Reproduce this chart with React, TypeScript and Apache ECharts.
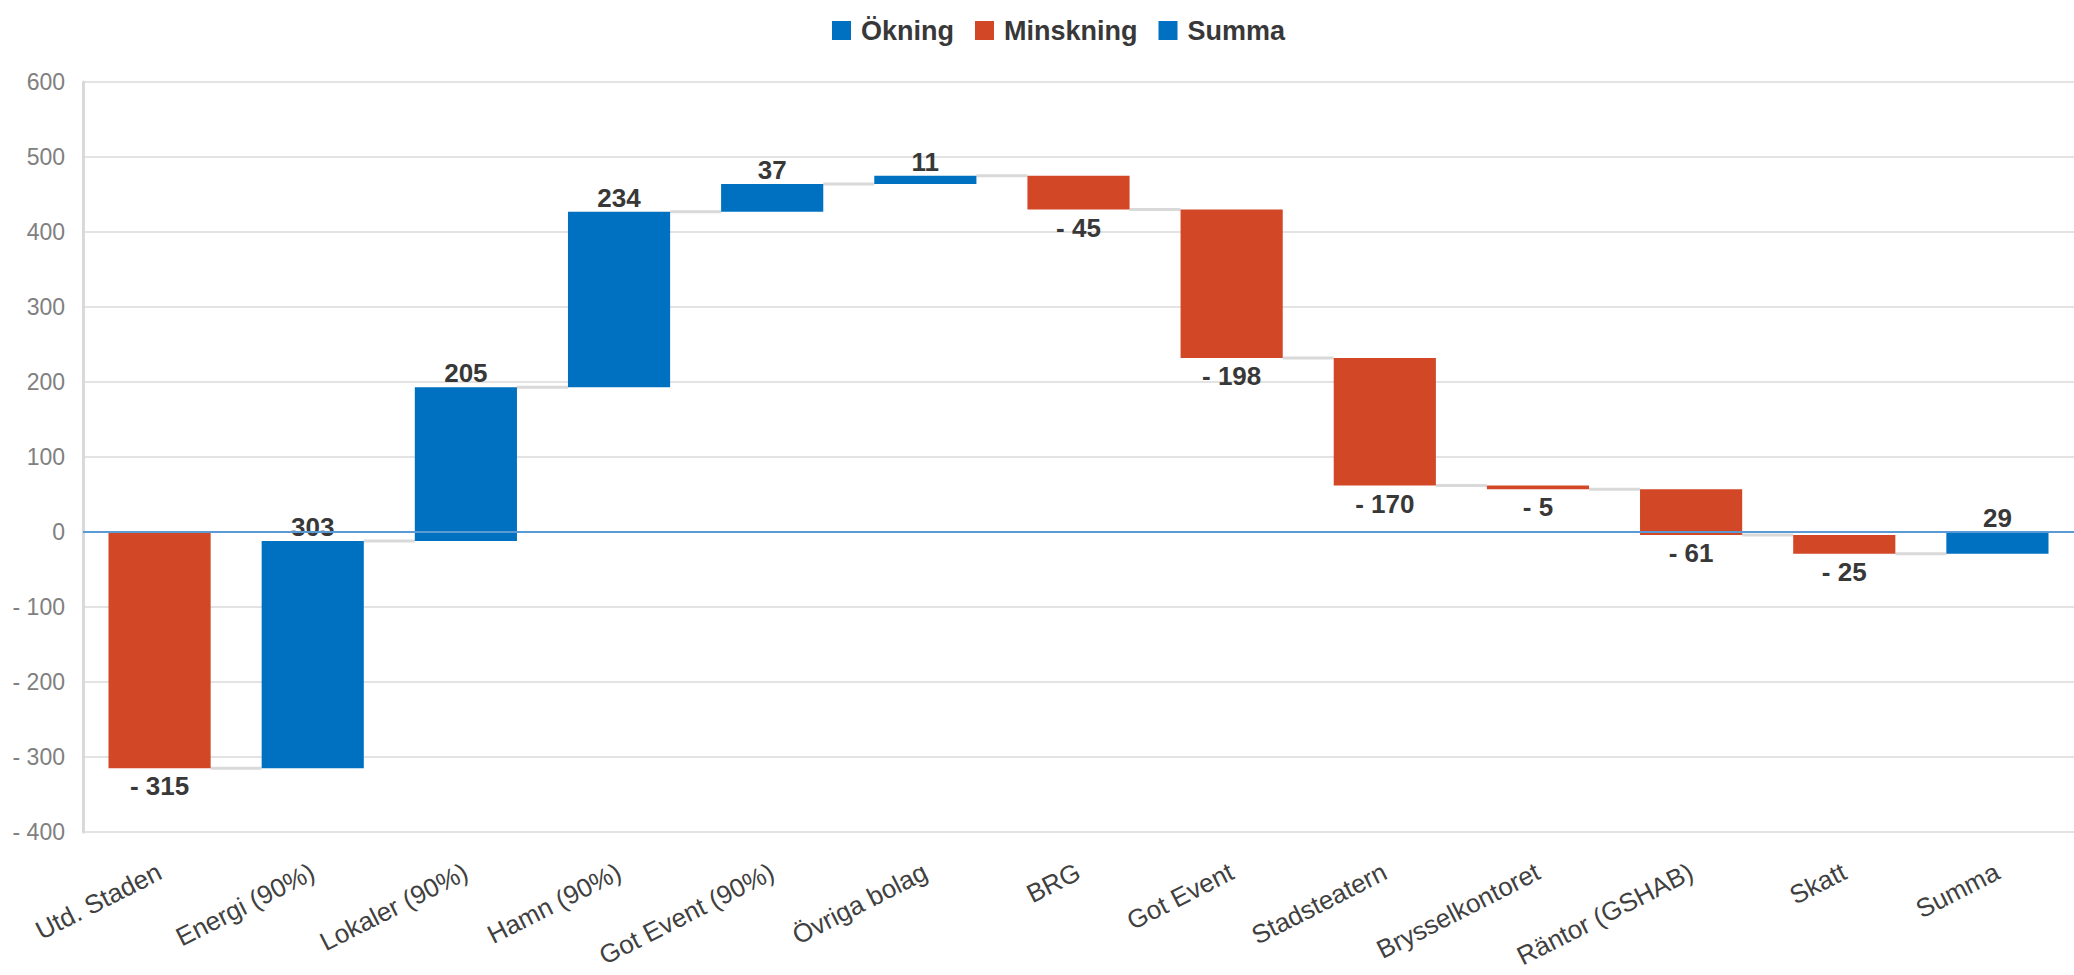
import React, { useEffect, useRef } from "react";
import * as echarts from "echarts";

const categories = [
  "Utd. Staden",
  "Energi (90%)",
  "Lokaler (90%)",
  "Hamn (90%)",
  "Got Event (90%)",
  "Övriga bolag",
  "BRG",
  "Got Event",
  "Stadsteatern",
  "Brysselkontoret",
  "Räntor (GSHAB)",
  "Skatt",
  "Summa",
];
// change per company (last category is the sum)
const changes = [-315, 303, 205, 234, 37, 11, -45, -198, -170, -5, -61, -25];
const summaLabel = "29";
const yTicks = { min: -400, max: 600, interval: 100 };
const legendNames = ["Ökning", "Minskning", "Summa"];

const BLUE = "#0070C0";
const RED = "#D24726";
const FONT = "'Liberation Sans', Arial, sans-serif";

const fmtNeg = (v: number) => (v < 0 ? "- " + Math.abs(v) : String(v));

export default function App() {
  const ref = useRef<HTMLDivElement>(null);

  useEffect(() => {
    document.body.style.margin = "0";
    if (!ref.current) return;
    const chart = echarts.init(ref.current, undefined, { renderer: "svg" });

    // running totals
    const levels: number[] = [];
    let acc = 0;
    changes.forEach((c) => {
      acc += c;
      levels.push(acc);
    });
    const total = acc;

    const incData: any[] = [];
    const incLabels: string[] = [];
    const decData: any[] = [];
    const decLabels: string[] = [];
    changes.forEach((c, i) => {
      const start = i === 0 ? 0 : levels[i - 1];
      const end = levels[i];
      if (c >= 0) {
        incData.push([i, start, end]);
        incLabels.push(fmtNeg(c));
      } else {
        decData.push([i, start, end]);
        decLabels.push(fmtNeg(c));
      }
    });
    const sumData = [[categories.length - 1, 0, total]];
    const sumLabels = [summaLabel];

    const connData = levels.map((l, i) => [i, l]);

    const makeBarRender =
      (color: string, labels: string[], below: boolean) =>
      (params: any, api: any) => {
        const i = api.value(0);
        const s = api.value(1);
        const e = api.value(2);
        const p1 = api.coord([i, s]);
        const p2 = api.coord([i, e]);
        const bw = api.size([1, 0])[0] * 0.667;
        const top = Math.min(p1[1], p2[1]);
        const bottom = Math.max(p1[1], p2[1]);
        const h = Math.max(bottom - top, 1);
        return {
          type: "group",
          children: [
            {
              type: "rect",
              shape: { x: p1[0] - bw / 2, y: top, width: bw, height: h },
              style: { fill: color },
            },
            {
              type: "text",
              z2: 10,
              style: {
                text: labels[params.dataIndex],
                x: p1[0],
                y: below ? bottom + 5 : top - 1,
                align: "center",
                verticalAlign: below ? "top" : "bottom",
                fontSize: 26,
                fontWeight: "bold",
                fontFamily: FONT,
                fill: "#383838",
              },
            },
          ],
        };
      };

    const option: any = {
      animation: false,
      backgroundColor: "#ffffff",
      textStyle: { fontFamily: FONT },
      legend: {
        data: legendNames,
        left: 827,
        top: 12,
        icon: "rect",
        itemWidth: 19,
        itemHeight: 19,
        itemGap: 21,
        textStyle: {
          fontSize: 27,
          fontWeight: "bold",
          color: "#383838",
          fontFamily: FONT,
          padding: [0, 0, 0, 5],
        },
      },
      grid: { left: 83, right: -21, top: 82, bottom: 143, containLabel: false },
      xAxis: {
        type: "category",
        data: categories,
        axisLine: { show: false },
        axisTick: { show: false },
        splitLine: { show: false },
        axisLabel: {
          rotate: 27,
          interval: 0,
          margin: 38,
          fontSize: 26,
          color: "#404040",
          fontFamily: FONT,
        },
      },
      yAxis: {
        type: "value",
        min: yTicks.min,
        max: yTicks.max,
        interval: yTicks.interval,
        axisLine: { show: true, lineStyle: { color: "#d9d9d9", width: 3 } },
        axisTick: { show: false },
        splitLine: { show: true, lineStyle: { color: "#e3e3e3", width: 2 } },
        axisLabel: {
          fontSize: 23,
          color: "#808080",
          margin: 18,
          fontFamily: FONT,
          formatter: (v: number) => fmtNeg(v),
        },
      },
      series: [
        {
          name: "connectors",
          type: "custom",
          z: 1,
          data: connData,
          renderItem: (params: any, api: any) => {
            const i = api.value(0);
            const l = api.value(1);
            const a = api.coord([i, l]);
            const b = api.coord([i + 1, l]);
            const bw = api.size([1, 0])[0] * 0.667;
            return {
              type: "line",
              shape: { x1: a[0] + bw / 2, y1: a[1], x2: b[0] - bw / 2, y2: b[1] },
              style: { stroke: "#d9d9d9", lineWidth: 3 },
            };
          },
        },
        {
          name: legendNames[0],
          type: "custom",
          z: 2,
          itemStyle: { color: BLUE },
          data: incData,
          renderItem: makeBarRender(BLUE, incLabels, false),
        },
        {
          name: legendNames[1],
          type: "custom",
          z: 2,
          itemStyle: { color: RED },
          data: decData,
          renderItem: makeBarRender(RED, decLabels, true),
        },
        {
          name: legendNames[2],
          type: "custom",
          z: 3,
          itemStyle: { color: BLUE },
          data: sumData,
          renderItem: makeBarRender(BLUE, sumLabels, false),
          markLine: {
            silent: true,
            symbol: "none",
            label: { show: false },
            lineStyle: { color: "#5B9BD5", width: 2, type: "solid" },
            data: [{ yAxis: 0 }],
          },
        },
      ],
    };
    chart.setOption(option);
    return () => chart.dispose();
  }, []);

  return <div ref={ref} style={{ width: 2074, height: 975 }} />;
}
